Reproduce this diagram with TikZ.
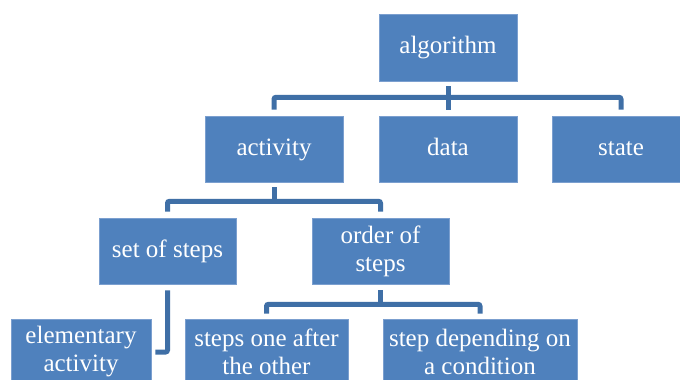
\documentclass[tikz,border=0pt]{standalone}
\usepackage{fontspec}
\setmainfont{Liberation Serif}
\usetikzlibrary{calc}
\definecolor{boxblue}{HTML}{4F81BD}
\definecolor{boxedge}{HTML}{7B9FCF}
\definecolor{linkblue}{HTML}{3F6FA6}
\begin{document}
\begin{tikzpicture}[x=1pt,y=-1pt,
  box/.style={rectangle, fill=boxblue, draw=boxedge, line width=0.6pt,
    minimum height=66pt, inner sep=1pt, align=center, text=white,
    font=\fontsize{25}{28}\selectfont},
  oneline/.style={box, text height=17pt, text depth=5pt},
  conn/.style={draw=linkblue, line width=5pt, rounded corners=2pt}]
\useasboundingbox (0,0) rectangle (680,380);
\clip (0,0) rectangle (680,380);
\fill[white] (0,0) rectangle (680,380);
% level 0
\node[oneline, minimum width=138pt, minimum height=67pt] (alg) at (448,47.5) {algorithm};
% level 1
\node[oneline, minimum width=138pt] (act) at (274,149) {activity};
\node[oneline, minimum width=138pt] (data) at (448,149) {data};
\node[oneline, minimum width=138pt] (state) at (621,149) {state};
% level 2
\node[oneline, minimum width=137pt] (set) at (167.5,251) {set of steps};
\node[box, minimum width=137pt] (order) at (380.5,251) {order of\\steps};
% level 3
\node[box, minimum width=140pt] (elem) at (81,352) {elementary\\activity};
\node[box, minimum width=163pt] (one) at (266.5,352) {steps one after\\the other};
\node[box, minimum width=194pt] (cond) at (480,352) {step depending on\\a condition};
% connectors
\coordinate (b1) at ($(alg.south)+(0,16)$);
\draw[conn] ($(alg.south)+(0,5)$) -- (b1);
\draw[conn] ($(act.north)+(0,-6)$) |- (b1) -| ($(state.north)+(0,-6)$);
\draw[conn] (b1) -- ($(data.north)+(0,-6)$);
\coordinate (b2) at ($(act.south)+(0,19)$);
\draw[conn] ($(act.south)+(0,5)$) -- (b2);
\draw[conn] ($(set.north)+(0,-6)$) |- (b2) -| ($(order.north)+(0,-6)$);
\draw[conn] ($(set.south)+(0,6)$) |- ($(elem.east)+(4,0)$);
\coordinate (b3) at ($(order.south)+(0,20)$);
\draw[conn] ($(order.south)+(0,6)$) -- (b3);
\draw[conn] ($(one.north)+(0,-5)$) |- (b3) -| ($(cond.north)+(0,-5)$);
\end{tikzpicture}
\end{document}
